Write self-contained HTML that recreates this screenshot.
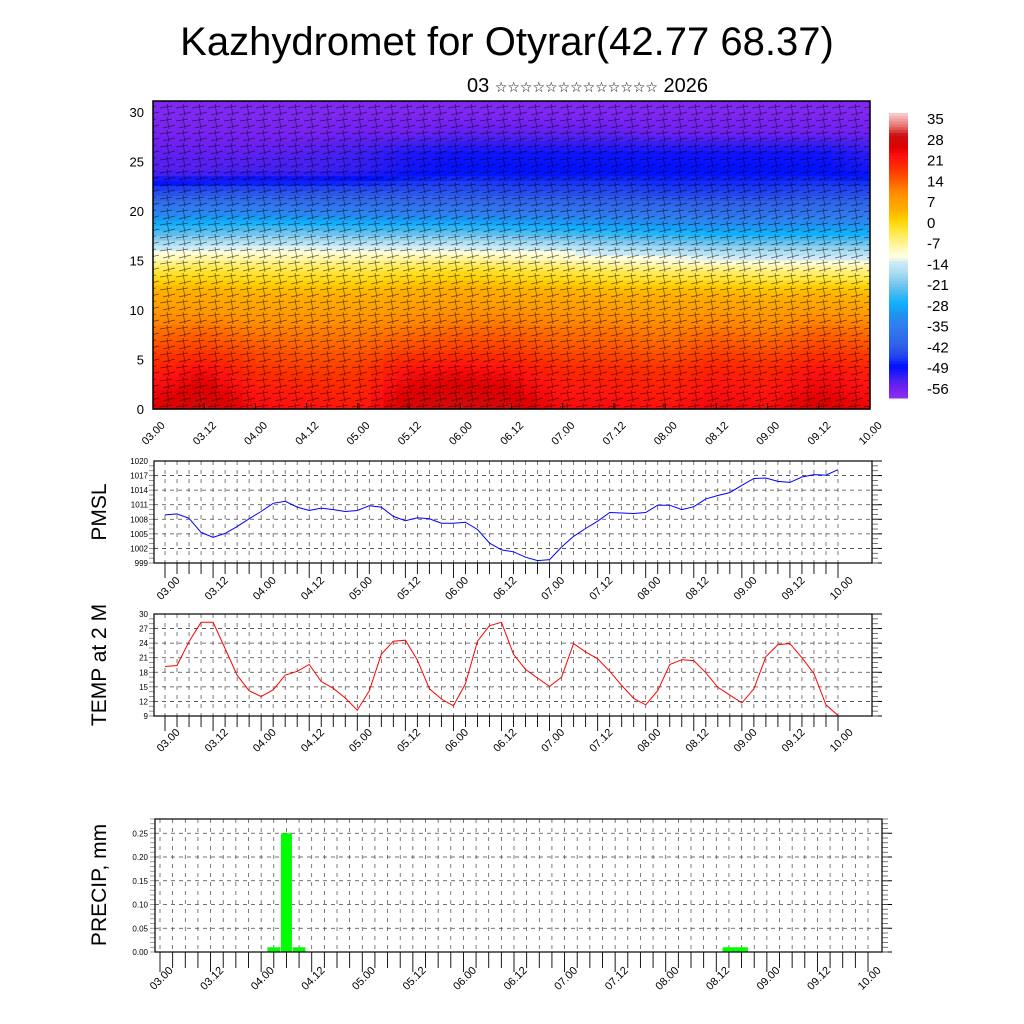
<!DOCTYPE html>
<html><head><meta charset="utf-8"><title>Kazhydromet for Otyrar</title>
<style>html,body{margin:0;padding:0;background:#fff}svg{display:block;font-family:"Liberation Sans",sans-serif}</style>
</head><body>
<svg id="chart" width="1024" height="1024" viewBox="0 0 1024 1024" xmlns="http://www.w3.org/2000/svg">
<defs>
<pattern id="barbs" width="16" height="13" patternUnits="userSpaceOnUse">
<path d="M0 4 L12 2 M3 11 L15 8 M7 0 L9 12" stroke="#000" stroke-width="0.7" fill="none"/>
</pattern>
</defs>
<text x="507" y="55" font-size="40" text-anchor="middle">Kazhydromet for Otyrar(42.77 68.37)</text>
<text x="467" y="92" font-size="20" font-family="'Liberation Sans','DejaVu Sans',sans-serif">03 <tspan font-size="14" font-family="'DejaVu Sans',sans-serif">☆☆☆☆☆☆☆☆☆☆☆☆☆</tspan> 2026</text>
<g id="heat"></g>
<g id="cbar"></g>
<g id="pmsl"></g>
<g id="temp"></g>
<g id="precip"></g>
</svg>
<script>
// ---- data ----
const timeLabels = ["03.00","03.12","04.00","04.12","05.00","05.12","06.00","06.12","07.00","07.12","08.00","08.12","09.00","09.12","10.00"];
const heights = [0,2,4,6,8,10,12,14,16,18,20,22,24,26,28,30];
const heatRows = [
[24,27,22,21,20,26,27,26,22,22,21,23,22,25,23],
[22,25,20,19,18,24,25,24,20,20,19,21,20,23,21],
[19,22,17,16,16,21,22,21,18,18,17,19,18,21,19],
[15,16,14,13,13,15,16,16,14,14,13,15,14,16,15],
[11,12,10,10,10,11,12,12,11,11,10,11,10,12,11],
[7,7,6,6,6,7,8,8,7,7,6,7,6,7,6],
[3,3,2,2,2,3,4,3,3,2,2,2,1,2,1],
[-4,-3,-4,-4,-4,-3,-2,-3,-4,-5,-6,-6,-7,-7,-7],
[-14,-12,-12,-12,-12,-12,-12,-13,-14,-16,-17,-18,-18,-18,-18],
[-25,-24,-23,-23,-24,-24,-24,-25,-26,-27,-28,-29,-29,-29,-29],
[-35,-34,-34,-35,-35,-36,-36,-37,-37,-38,-38,-39,-39,-38,-38],
[-45,-44,-44,-44,-44,-44,-44,-45,-45,-45,-46,-46,-46,-45,-45],
[-54,-54,-53,-53,-52,-50,-49,-49,-49,-49,-49,-49,-49,-49,-50],
[-55,-55,-55,-54,-53,-51,-50,-50,-50,-50,-50,-50,-50,-50,-52],
[-57,-57,-57,-57,-56,-56,-55,-55,-55,-55,-56,-56,-56,-56,-56],
[-58,-58,-58,-58,-58,-58,-58,-58,-58,-58,-58,-58,-58,-58,-58]];
const cbarLabels = [35,28,21,14,7,0,-7,-14,-21,-28,-35,-42,-49,-56];
const heatYTicks = [0,5,10,15,20,25,30];
const pmsl = [1008.9,1009.1,1008.2,1005.3,1004.3,1005.1,1006.5,1008.1,1009.6,1011.3,1011.7,1010.5,1009.8,1010.3,1010.0,1009.6,1009.8,1010.8,1010.5,1008.6,1007.7,1008.3,1008.1,1007.2,1007.2,1007.4,1005.9,1003.1,1001.7,1001.3,1000.2,999.5,999.7,1002.3,1004.5,1006.1,1007.6,1009.4,1009.3,1009.2,1009.4,1010.9,1010.9,1010.0,1010.6,1012.2,1012.9,1013.5,1015.0,1016.4,1016.5,1015.8,1015.6,1016.7,1017.2,1017.1,1018.2];
const pmslTicks = [999,1002,1005,1008,1011,1014,1017,1020];
const temp = [19.2,19.4,24.3,28.3,28.3,22.9,17.4,14.2,13.0,14.4,17.4,18.2,19.6,16.1,14.7,12.7,10.2,14.2,21.7,24.4,24.6,20.5,14.6,12.5,11.1,15.6,24.4,27.6,28.3,21.7,18.6,16.8,15.1,17.0,23.9,22.2,20.8,18.2,15.3,12.6,11.3,14.2,19.6,20.6,20.4,17.9,14.9,13.3,11.7,14.6,21.2,23.7,23.9,21.0,17.7,11.3,9.1];
const tempTicks = [9,12,15,18,21,24,27,30];
const precipIdx = [9,10,11,45,46];
const precipVal = [0.01,0.25,0.01,0.01,0.01];
const precipTicks = ["0.00","0.05","0.10","0.15","0.20","0.25"];

// ---- helpers ----
const NS="http://www.w3.org/2000/svg";
function mk(parent,tag,attrs,text){const e=document.createElementNS(NS,tag);for(const k in attrs)e.setAttribute(k,attrs[k]);if(text!==undefined)e.textContent=text;parent.appendChild(e);return e;}
const stops=[[35,[248,200,200]],[31,[232,112,112]],[28,[200,16,16]],[24,[224,0,0]],[21,[255,16,16]],[17,[255,48,0]],[14,[255,80,0]],[10,[255,128,0]],[7,[255,154,0]],[3,[255,176,0]],[0,[255,208,0]],[-4,[255,232,64]],[-7,[255,240,128]],[-11,[255,252,208]],[-13,[255,255,224]],[-14,[208,236,248]],[-18,[168,220,240]],[-21,[128,200,240]],[-25,[64,184,240]],[-28,[16,176,255]],[-32,[32,144,240]],[-35,[48,128,240]],[-42,[48,96,232]],[-46,[32,64,240]],[-49,[0,16,255]],[-53,[64,32,240]],[-56,[112,32,240]],[-60,[144,48,240]]];
function cmap(v){if(v>=stops[0][0])return rgb(stops[0][1]);for(let i=0;i<stops.length-1;i++){const a=stops[i],b=stops[i+1];if(v<=a[0]&&v>=b[0]){const t=(a[0]-v)/(a[0]-b[0]);return rgb(a[1].map((c,j)=>Math.round(c+(b[1][j]-c)*t)));}}return rgb(stops[stops.length-1][1]);}
function rgb(c){return `rgb(${c[0]},${c[1]},${c[2]})`;}

// ---- heatmap ----
const H=document.getElementById('heat');
const hx0=153,hx1=870,hyTop=101,hyBot=409;
const hX=t=>hx0+(hx1-hx0)*t/(timeLabels.length-1);
const hY=h=>409-h*9.9;
function sample(t,h){const nc=timeLabels.length-1;t=Math.max(0,Math.min(nc,t));const i=Math.min(nc-1,Math.floor(t)),ft=t-i;
 let j=0;while(j<heights.length-2&&h>heights[j+1])j++;let fh=(h-heights[j])/(heights[j+1]-heights[j]);fh=Math.max(0,Math.min(1,fh));
 const a=heatRows[j][i]*(1-ft)+heatRows[j][i+1]*ft,b=heatRows[j+1][i]*(1-ft)+heatRows[j+1][i+1]*ft;return a*(1-fh)+b*fh;}
const cellsG=mk(H,'g',{});
const NT=56, hTop=(409-101)/9.9, NH=62;
for(let a=0;a<NT;a++){for(let b=0;b<NH;b++){
 const t0=a/4, t1=(a+1)/4, h0=b*hTop/NH, h1=(b+1)*hTop/NH;
 const v=sample((t0+t1)/2,(h0+h1)/2);
 const r=mk(cellsG,'rect',{x:hX(t0).toFixed(2),y:hY(h1).toFixed(2),width:(hX(t1)-hX(t0)+0.6).toFixed(2),height:(hY(h0)-hY(h1)+0.6).toFixed(2),fill:cmap(v)});
 
 
}}
const wb=mk(H,'rect',{x:hx0,y:hyTop,width:hx1-hx0,height:hyBot-hyTop,fill:'url(#barbs)',opacity:'0.6'});


mk(H,'rect',{x:hx0,y:hyTop,width:hx1-hx0,height:hyBot-hyTop,fill:'none',stroke:'#000','stroke-width':1.5});
heatYTicks.forEach(v=>{const l=mk(H,'text',{x:144,y:hY(v)+5,'font-size':13,'text-anchor':'end'},v);
 
 });
timeLabels.forEach((s,i)=>{const x=hX(i);mk(H,'line',{x1:x,y1:hyBot,x2:x,y2:hyBot-6,stroke:'#000'});
 const l=mk(H,'text',{x:x,y:437,'font-size':11,'text-anchor':'middle',transform:`rotate(-45 ${x} 433)`},s);
 
 });

// ---- colorbar ----
const C=document.getElementById('cbar');
const cbx=889,cbw=19,cbTop=113,cbBot=398;
for(let k=0;k<100;k++){const v=35-k*(35+60)/100;mk(C,'rect',{x:cbx,y:cbTop+k*(cbBot-cbTop)/100,width:cbw,height:(cbBot-cbTop)/100+0.5,fill:cmap(v)});}
cbarLabels.forEach((v,i)=>{const l=mk(C,'text',{x:927,y:cbTop+11+i*(385-115)/13,'font-size':15},v);
 
 });

// ---- line panels ----
function linePanel(gid,vals,ticks,top,bot,color,title,titleY,labelY){
 const G=document.getElementById(gid);const bx0=154,bx1=872,tx0=165,tx1=838;
 const lo=ticks[0],hi=ticks[ticks.length-1];
 const X=i=>tx0+(tx1-tx0)*i/(vals.length-1);
 const Y=v=>bot-(v-lo)/(hi-lo)*(bot-top);
 ticks.forEach(v=>{mk(G,'line',{x1:bx0,x2:bx1,y1:Y(v),y2:Y(v),stroke:'#444','stroke-dasharray':'4 4','stroke-width':0.8});
  mk(G,'line',{x1:bx1,x2:bx1+10,y1:Y(v),y2:Y(v),stroke:'#000'});
  const l=mk(G,'text',{x:148,y:Y(v)+3,'font-size':8,'text-anchor':'end'},v);
  
  });
 for(let k=0;k<(ticks.length-1)*3;k++){const y=Y(lo+(hi-lo)*k/((ticks.length-1)*3));mk(G,'line',{x1:bx1,x2:bx1+6,y1:y,y2:y,stroke:'#555','stroke-width':0.8});mk(G,'line',{x1:bx0-5,x2:bx0,y1:y,y2:y,stroke:'#777','stroke-width':0.8});}
 for(let i=0;i<vals.length;i++){const x=X(i);mk(G,'line',{x1:x,x2:x,y1:top,y2:bot,stroke:'#444','stroke-dasharray':'4 5','stroke-width':0.7});
  mk(G,'line',{x1:x,x2:x,y1:bot,y2:bot+(i%4==0?15:11),stroke:'#000','stroke-width':0.9});}
 timeLabels.forEach((s,i)=>{const x=X(i*4)+3;const l=mk(G,'text',{x:x,y:labelY+4,'font-size':11,'text-anchor':'middle',transform:`rotate(-45 ${x} ${labelY})`},s);
  
  });
 mk(G,'rect',{x:bx0,y:top,width:bx1-bx0,height:bot-top,fill:'none',stroke:'#000','stroke-width':1.2});
 const p=mk(G,'polyline',{points:vals.map((v,i)=>X(i).toFixed(1)+','+Y(v).toFixed(1)).join(' '),fill:'none',stroke:color,'stroke-width':1});
 
 
 const t=mk(G,'text',{x:0,y:0,'font-size':21,'text-anchor':'middle',transform:`translate(106 ${titleY}) rotate(-90)`},title);
 
 
}
linePanel('pmsl',pmsl,pmslTicks,461,563,'#0000ff','PMSL',512,588);
linePanel('temp',temp,tempTicks,614,716,'#ff0000','TEMP at 2 M',665,740);

// ---- precip ----
(function(){const G=document.getElementById('precip');const bx0=155,bx1=882,top=819,bot=952,tx0=160,tx1=868;
 const X=i=>tx0+(tx1-tx0)*i/56;const Y=v=>bot-v/0.28*(bot-top);
 precipTicks.forEach(s=>{const v=+s;mk(G,'line',{x1:bx0,x2:bx1,y1:Y(v),y2:Y(v),stroke:'#444','stroke-dasharray':'4 4','stroke-width':0.8});
  mk(G,'line',{x1:bx1,x2:bx1+10,y1:Y(v),y2:Y(v),stroke:'#000'});
  const l=mk(G,'text',{x:148,y:Y(v)+3,'font-size':8,'text-anchor':'end'},s);
  
  });
 for(let k=0;k<=28;k++){const y=Y(k*0.01);mk(G,'line',{x1:bx1,x2:bx1+6,y1:y,y2:y,stroke:'#555','stroke-width':0.8});mk(G,'line',{x1:bx0-5,x2:bx0,y1:y,y2:y,stroke:'#888','stroke-width':0.8});}
 for(let i=0;i<=56;i++){const x=X(i);mk(G,'line',{x1:x,x2:x,y1:top,y2:bot,stroke:'#444','stroke-dasharray':'4 5','stroke-width':0.7});
  mk(G,'line',{x1:x,x2:x,y1:bot,y2:bot+(i%4==0?20:16),stroke:'#000','stroke-width':0.9});}
 timeLabels.forEach((s,i)=>{const x=X(i*4)+1;const l=mk(G,'text',{x:x,y:982,'font-size':11,'text-anchor':'middle',transform:`rotate(-45 ${x} 978)`},s);
  
  });
 precipIdx.forEach((idx,k)=>{const v=precipVal[k];const w=v>0.05?11:12.7;
  const r=mk(G,'rect',{x:X(idx)-w/2,y:Y(v),width:w,height:bot-Y(v),fill:'#00ff00'});
  
  });
 mk(G,'rect',{x:bx0,y:top,width:bx1-bx0,height:bot-top,fill:'none',stroke:'#000','stroke-width':1.2});
 const t=mk(G,'text',{x:0,y:0,'font-size':21,'text-anchor':'middle',transform:'translate(106 885) rotate(-90)'},'PRECIP, mm');
 
 
})();
</script>
</body></html>
